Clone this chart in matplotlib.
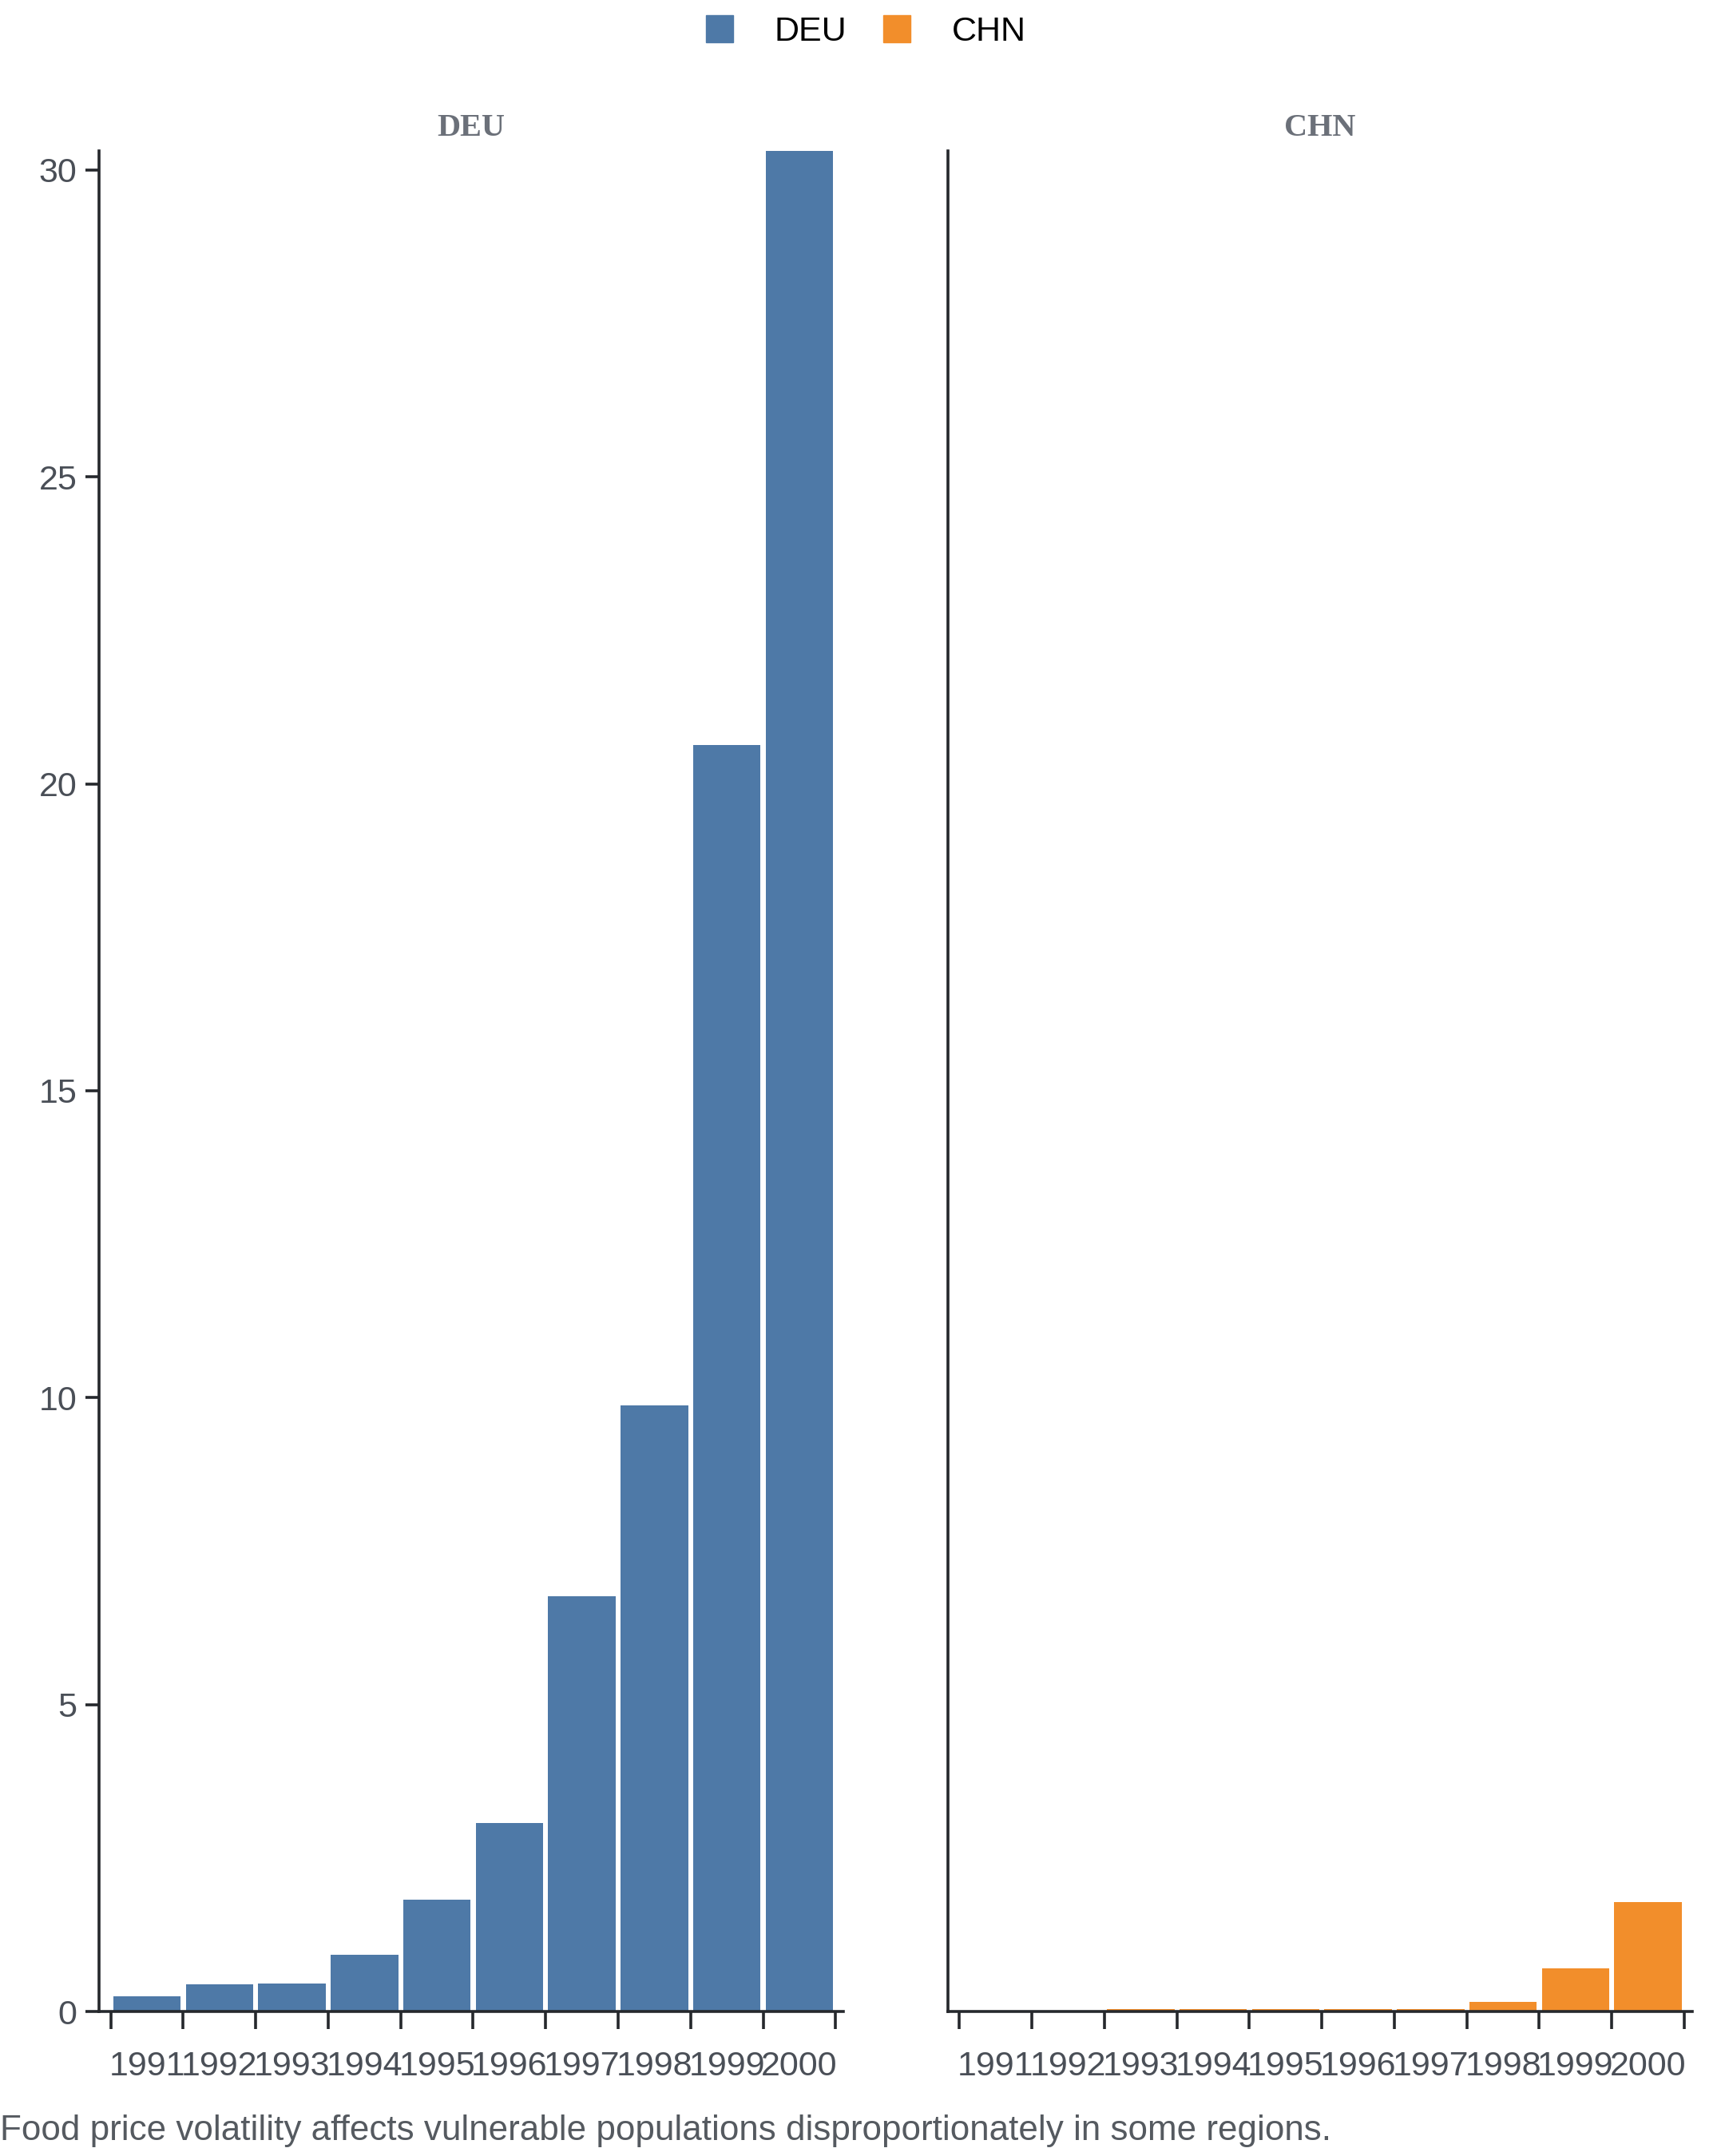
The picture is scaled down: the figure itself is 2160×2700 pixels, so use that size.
import numpy as np
import matplotlib.pyplot as plt
from matplotlib.lines import Line2D

years = ["1991", "1992", "1993", "1994", "1995", "1996", "1997", "1998", "1999", "2000"]
deu_values = [0.25, 0.44, 0.46, 0.93, 1.82, 3.07, 6.77, 9.88, 20.63, 30.31]
chn_values = [0.0, 0.0, 0.04, 0.04, 0.04, 0.04, 0.04, 0.16, 0.70, 1.78]
panels = ["DEU", "CHN"]
colors = {"DEU": "#4e79a7", "CHN": "#f28e2b"}
caption = "Food price volatility affects vulnerable populations disproportionately in some regions."

plt.rcParams['font.family'] = ['Liberation Sans', 'DejaVu Sans']
axis_color = "#25282c"
tick_text = "#4a4f57"

fig = plt.figure(figsize=(21.6, 27), dpi=100)
ax1 = fig.add_axes([0.0575, 0.067, 0.4315, 0.863])
ax2 = fig.add_axes([0.5495, 0.067, 0.4315, 0.863], sharey=ax1)

x = np.arange(len(years))
edges = np.arange(len(years) + 1) - 0.5

for ax, name, vals in [(ax1, "DEU", deu_values), (ax2, "CHN", chn_values)]:
    ax.bar(x, vals, width=0.93, color=colors[name], zorder=2)
    ax.set_xlim(-0.66, 9.61)
    for s in ["top", "right"]:
        ax.spines[s].set_visible(False)
    for s in ["left", "bottom"]:
        ax.spines[s].set_color(axis_color)
        ax.spines[s].set_linewidth(2.6)
    ax.set_xticks(edges)
    ax.set_xticklabels([])
    ax.set_xticks(x, minor=True)
    ax.set_xticklabels(years, minor=True)
    ax.tick_params(axis="x", which="major", length=16, width=2.6, color=axis_color)
    ax.tick_params(axis="x", which="minor", length=0, pad=35, labelsize=31, labelcolor=tick_text)
    ax.set_title(name, family=["Liberation Serif", "DejaVu Serif"], fontweight="bold",
                 fontsize=29, color="#6b7079", pad=14)

ax1.set_ylim(0, 30.31)
ax1.set_yticks([0, 5, 10, 15, 20, 25, 30])
ax1.tick_params(axis="y", length=12, width=2.6, color=axis_color, labelsize=31,
                labelcolor=tick_text, pad=8)
ax2.tick_params(axis="y", left=False, labelleft=False)

handles = [Line2D([0], [0], marker="s", linestyle="none", markersize=24,
                  markerfacecolor=colors[p], markeredgecolor=colors[p]) for p in panels]
fig.legend(handles, panels, loc="upper center", bbox_to_anchor=(0.5, 1.007), ncol=2,
           frameon=False, fontsize=31, handlelength=1.2, handletextpad=1.0,
           columnspacing=0.85)

fig.text(0.0, 0.004, caption, fontsize=31.7, color="#555a60", ha="left", va="bottom")

fig.savefig("out.png", dpi=100)
